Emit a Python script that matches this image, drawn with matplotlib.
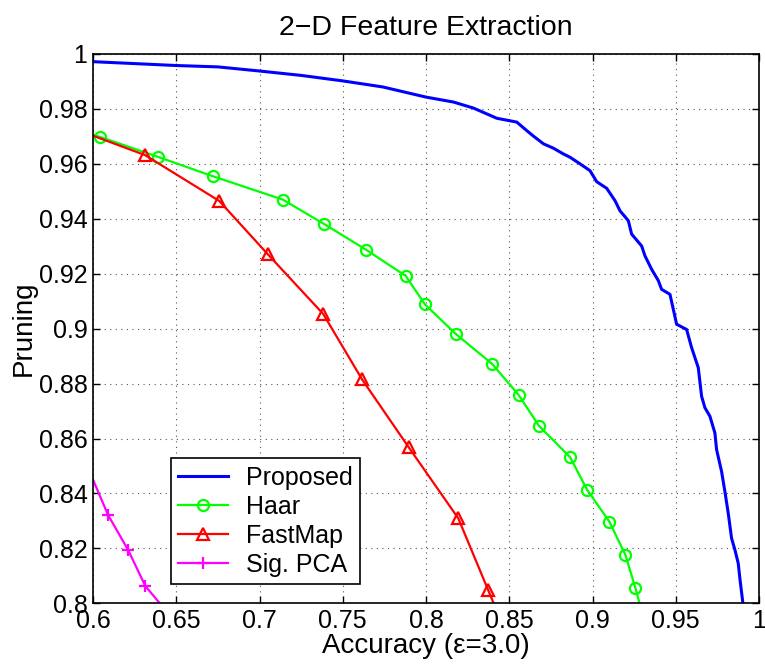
import matplotlib.pyplot as plt

# data
proposed_x = [0.600, 0.650, 0.675, 0.700, 0.725, 0.750, 0.774, 0.800, 0.8165, 0.8285,
              0.8425, 0.8545, 0.8605, 0.8645, 0.8705, 0.8765, 0.8825, 0.8865, 0.8925,
              0.8985, 0.9025, 0.9085, 0.9135, 0.9165, 0.9215, 0.9235, 0.9295, 0.9315,
              0.9355, 0.9395, 0.9415, 0.9465, 0.9485, 0.9505, 0.9565, 0.9595, 0.9635,
              0.9655, 0.9675, 0.9705, 0.9735, 0.9745, 0.9775, 0.9795, 0.9815, 0.9835,
              0.9855, 0.9875, 0.9886, 0.9902, 0.9906]
proposed_y = [0.9972, 0.9958, 0.9953, 0.9938, 0.9922, 0.9902, 0.9880, 0.9843, 0.9825, 0.9803,
              0.9766, 0.9752, 0.9721, 0.9701, 0.9673, 0.9657, 0.9636, 0.9624, 0.9600,
              0.9575, 0.9535, 0.9511, 0.9466, 0.9429, 0.9393, 0.9344, 0.9301, 0.9265,
              0.9216, 0.9175, 0.9143, 0.9125, 0.9071, 0.9016, 0.8997, 0.8931, 0.8858,
              0.8754, 0.8712, 0.8681, 0.8620, 0.8560, 0.8480, 0.8407, 0.8328, 0.8237,
              0.8195, 0.8146, 0.8085, 0.8006, 0.7950]

haar_x = [0.590, 0.6042, 0.6392, 0.6719, 0.7139, 0.7385, 0.7638, 0.7878, 0.7994, 0.818,
          0.8398, 0.8557, 0.8677, 0.8865, 0.8967, 0.9101, 0.9197, 0.9257, 0.931]
haar_y = [0.9728, 0.9698, 0.9625, 0.9555, 0.9470, 0.9382, 0.9288, 0.9192, 0.9088, 0.8980,
          0.8871, 0.8758, 0.8647, 0.8532, 0.8414, 0.8297, 0.8177, 0.8057, 0.7937]

fastmap_x = [0.590, 0.6312, 0.6758, 0.7048, 0.7383, 0.7616, 0.7896, 0.8194, 0.8374, 0.845]
fastmap_y = [0.9725, 0.9632, 0.9465, 0.9272, 0.9053, 0.8815, 0.8568, 0.8309, 0.8047, 0.7936]

sigpca_x = [0.594, 0.609, 0.621, 0.6315, 0.645]
sigpca_y = [0.8535, 0.8322, 0.8195, 0.8062, 0.7965]

x_ticks = [0.6, 0.65, 0.7, 0.75, 0.8, 0.85, 0.9, 0.95, 1.0]
y_ticks = [0.8, 0.82, 0.84, 0.86, 0.88, 0.9, 0.92, 0.94, 0.96, 0.98, 1.0]

plt.rcParams['font.family'] = ['Liberation Sans', 'DejaVu Sans']
plt.rcParams['font.size'] = 18

fig = plt.figure(figsize=(7.65, 6.64), dpi=100)
ax = fig.add_axes([0.1216, 0.0914, 0.8706, 0.8273])

ax.plot(proposed_x, proposed_y, color='#0000ff', lw=2.2, label='Proposed')
ax.plot(haar_x, haar_y, color='#00ff00', lw=1.6, marker='o', ms=8, mfc='none',
        mew=1.6, label='Haar')
ax.plot(fastmap_x, fastmap_y, color='#ff0000', lw=1.6, marker='^', ms=9, mfc='none',
        mew=1.6, label='FastMap')
ax.plot(sigpca_x, sigpca_y, color='#ff00ff', lw=1.6, marker='+', ms=9,
        mew=1.6, label='Sig. PCA')

ax.set_xlim(0.6, 1.0)
ax.set_ylim(0.8, 1.0)
ax.set_xticks(x_ticks)
ax.set_xticklabels(['0.6', '0.65', '0.7', '0.75', '0.8', '0.85', '0.9', '0.95', '1'])
ax.set_yticks(y_ticks)
ax.set_yticklabels(['0.8', '0.82', '0.84', '0.86', '0.88', '0.9', '0.92', '0.94',
                    '0.96', '0.98', '1'])
ax.tick_params(direction='in', length=5, width=1, top=True, right=True, pad=4)
ax.grid(True, color='#555555', linestyle=(0, (1, 4)), linewidth=0.8)
for s in ax.spines.values():
    s.set_linewidth(1.2)

ax.set_xlabel('Accuracy (\u03b5=3.0)', fontsize=20, labelpad=0)
ax.set_ylabel('Pruning', fontsize=20, labelpad=1)
ax.set_title('2\u2212D Feature Extraction', fontsize=20.5, pad=14)

leg = ax.legend(loc='lower left', bbox_to_anchor=(0.117, 0.035), borderaxespad=0,
                frameon=True, fancybox=False, edgecolor='black', framealpha=1,
                handlelength=2.0, borderpad=0.3, labelspacing=0.2, handletextpad=0.7)
leg.get_frame().set_linewidth(1.2)

fig.savefig('out.png', dpi=100)
